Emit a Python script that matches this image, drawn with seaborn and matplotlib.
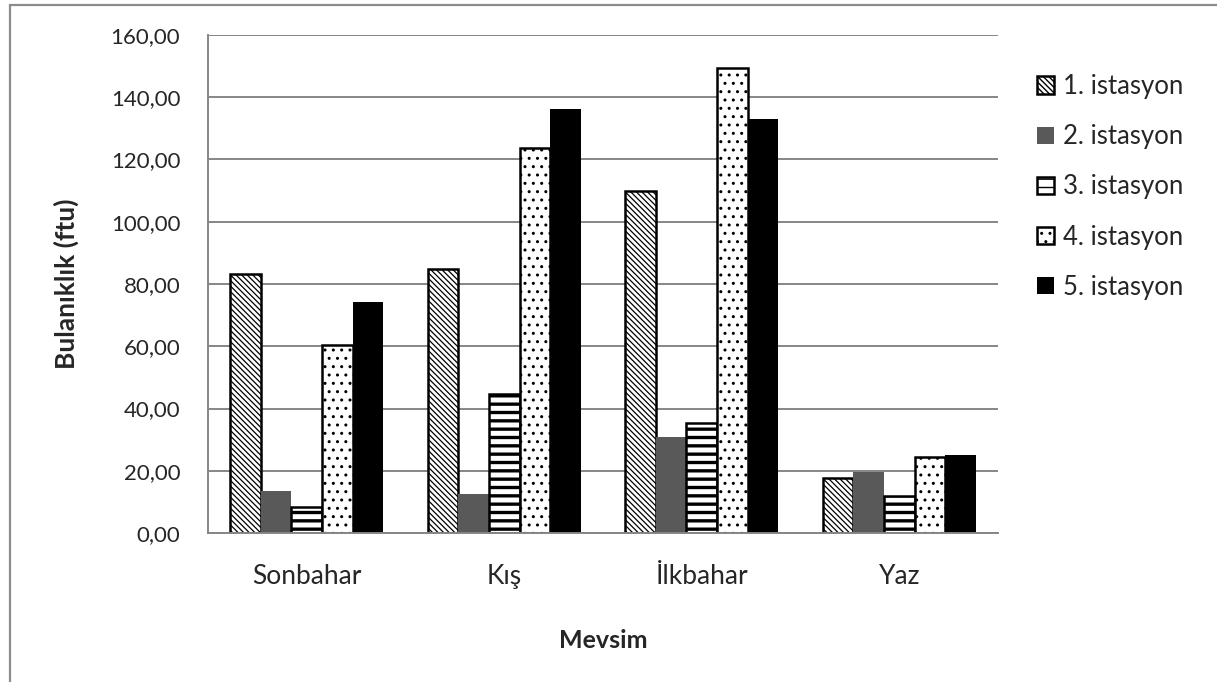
import matplotlib
matplotlib.use('Agg')
import matplotlib.pyplot as plt
import seaborn as sns
import pandas as pd
from matplotlib.patches import Rectangle
from matplotlib.ticker import FuncFormatter

# --- data
seasons = ['Sonbahar', 'Kış', 'İlkbahar', 'Yaz']
stations = ['1. istasyon', '2. istasyon', '3. istasyon', '4. istasyon', '5. istasyon']
st1 = [83.3, 84.8, 110.0, 17.7]
st2 = [13.4, 12.5, 30.8, 19.7]
st3 = [8.5, 44.7, 35.3, 12.0]
st4 = [60.5, 123.7, 149.4, 24.5]
st5 = [74.2, 136.2, 133.0, 25.1]

df = pd.DataFrame({
    'Mevsim': seasons * 5,
    'istasyon': [s for s in stations for _ in seasons],
    'deger': st1 + st2 + st3 + st4 + st5,
})

sns.set_style('white')
plt.rcParams['font.family'] = ['Lato', 'DejaVu Sans']

W, H = 1217, 682
fig, ax = plt.subplots(figsize=(W / 100, H / 100), dpi=100)
fig.subplots_adjust(left=208 / W, right=998 / W, top=1 - 35 / H, bottom=1 - 533 / H)

sns.barplot(data=df, x='Mevsim', y='deger', hue='istasyon', hue_order=stations,
            palette=['white', '#595959', 'white', 'white', 'black'],
            width=0.775, gap=0, saturation=1, errorbar=None, legend=False, ax=ax)

styles = [
    dict(fc='white', ec='black', hatch='\\\\\\\\\\\\', lw=1.8, hlw=0.9),
    dict(fc='#595959', ec='#595959', hatch=None, lw=0, hlw=1),
    dict(fc='white', ec='black', hatch='--', lw=1.8, hlw=2.4),
    dict(fc='white', ec='black', hatch='..', lw=1.8, hlw=1),
    dict(fc='black', ec='black', hatch=None, lw=0, hlw=1),
]
for cont, st in zip(ax.containers, styles):
    for bar in cont:
        bar.set_facecolor(st['fc'])
        bar.set_edgecolor(st['ec'])
        bar.set_linewidth(st['lw'])
        if st['hatch']:
            bar.set_hatch(st['hatch'])
        if hasattr(bar, 'set_hatch_linewidth'):
            bar.set_hatch_linewidth(st['hlw'])

gridc = '#868686'
ax.set_ylim(0, 160)
ax.set_yticks(range(0, 161, 20))
ax.yaxis.set_major_formatter(FuncFormatter(lambda v, p: f'{v:.2f}'.replace('.', ',')))
ax.yaxis.grid(True, color=gridc, lw=1.4)
ax.set_axisbelow(True)
for s in ['top', 'right']:
    ax.spines[s].set_visible(False)
for s in ['left', 'bottom']:
    ax.spines[s].set_color(gridc)
    ax.spines[s].set_linewidth(1.4)

ax.tick_params(axis='y', length=6.5, width=1.4, color=gridc, pad=13.5, labelsize=16)
ax.tick_params(axis='x', length=0, pad=22, labelsize=19)

ax.set_xlabel('Mevsim', fontsize=18, fontweight='bold')
ax.set_ylabel('Bulanıklık (ftu)', fontsize=19, fontweight='bold')
ax.xaxis.label.set_va('center')
ax.yaxis.label.set_va('center')
ax.xaxis.set_label_coords(0.5, (533 - 640) / 498)
ax.yaxis.set_label_coords((66 - 208) / 790, 0.5)

handles = [cont[0] for cont in ax.containers]
ax.legend(handles, stations, loc='upper left', bbox_to_anchor=(1037 / W, 1 - 74 / H),
          bbox_transform=fig.transFigure, frameon=False, fontsize=18.5,
          handlelength=0.65, handleheight=0.65, handletextpad=0.36, labelspacing=0.98,
          borderaxespad=0, borderpad=0)

# outer chart frame
fig.add_artist(Rectangle((10 / W, -0.1), 1.2, 1.1 - 5 / H, transform=fig.transFigure,
                         fill=False, ec='#8c8c8c', lw=1.6, clip_on=False))

fig.savefig('out.png', dpi=100)
